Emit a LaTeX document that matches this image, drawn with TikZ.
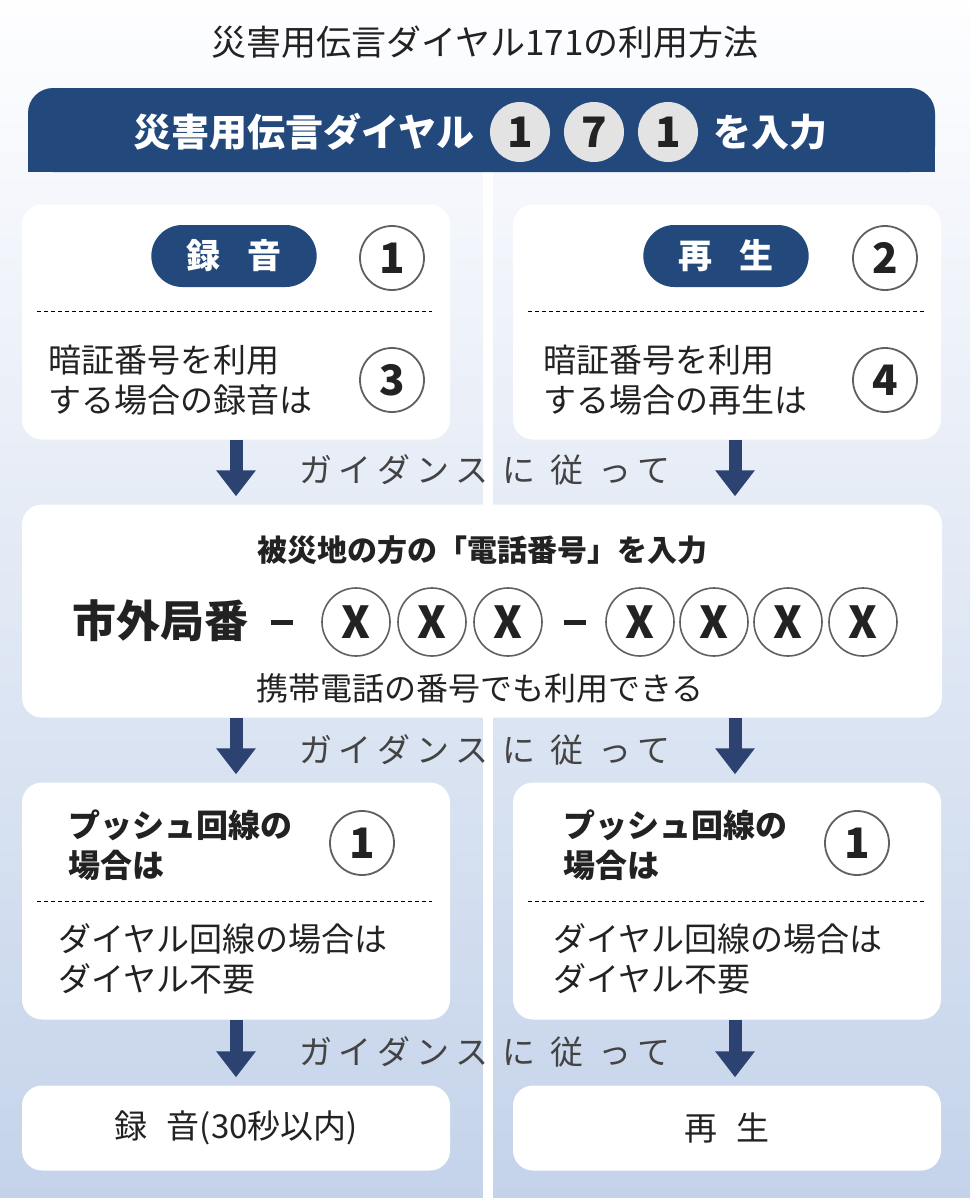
\documentclass[tikz,border=0pt]{standalone}
\usepackage{fontspec}
\setmainfont{Noto Sans CJK JP}
\usetikzlibrary{arrows.meta,shapes.misc}
\definecolor{navy}{HTML}{23497C}
\definecolor{arr}{HTML}{2C4270}
\definecolor{txt}{HTML}{222222}
\newcommand{\fs}[1]{\fontsize{#1}{40}\selectfont}
\newcommand{\gd}{ガ\hspace{0.18em}イ\hspace{0.18em}ダ\hspace{0.18em}ン\hspace{0.18em}ス\hspace{0.45em}に\hspace{0.45em}従\hspace{0.45em}っ\hspace{0.18em}て}
\tikzset{
 wbox/.style={fill=white,rounded corners=20pt,minimum width=428pt,inner sep=0pt},
 num/.style={circle,draw=gray!75!black,line width=1.8pt,minimum size=64pt,inner sep=0pt,font=\fs{42}\bfseries,text=txt},
 hnum/.style={circle,fill=gray!22,minimum size=60pt,inner sep=0pt,font=\fs{42}\bfseries,text=txt},
 xnum/.style={circle,draw=gray!75!black,line width=1.6pt,minimum size=68pt,inner sep=0pt,font=\fs{44}\bfseries,text=txt},
 pill/.style={rounded rectangle,fill=navy,minimum width=172pt,minimum height=62pt,text=white,font=\fs{34}\bfseries},
 bigarrow/.style={arr,line width=13pt,-{Triangle[width=38pt,length=26pt]},shorten >=8pt},
 guide/.style={font=\fs{33},text=txt!85},
 body/.style={font=\fs{33},text=txt,align=left,anchor=west,inner sep=0pt},
 dline/.style={dashed,line width=0.9pt,dash pattern=on 4pt off 3pt},
 hyph/.style={fill=txt,minimum width=22pt,minimum height=5pt,inner sep=0pt},
}
\begin{document}
\begin{tikzpicture}[x=1pt,y=-1pt]
\shade[top color=white!90!blue!4,bottom color={rgb,255:red,196;green,211;blue,234}] (0,0) rectangle (970,1200);
\fill[white] (483,172) rectangle (493,1200);
\fill[white] (0,1198) rectangle (970,1200);
\node[font=\fs{35},text=txt] (title) at (485,42) {災害用伝言ダイヤル171の利用方法};
% header
\fill[navy,rounded corners=25pt] (28,172) -- (28,88) -- (935,88) -- (935,172) -- cycle;
\fill[navy] (28,140) rectangle (935,172);
\node[font=\fs{38}\bfseries,text=white,anchor=east] (h1) at (478,132) {災害用伝言ダイヤル};
\node[hnum] (hn1) at (520,132) {1};
\node[hnum] (hn2) at (594,132) {7};
\node[hnum] (hn3) at (668,132) {1};
\node[font=\fs{38}\bfseries,text=white,anchor=west] (h2) at (710,132) {を入力};
% row1
\node[wbox,minimum height=235pt] (r1l) at (236,322) {};
\node[wbox,minimum height=235pt] (r1r) at (727,322) {};
\node[pill] (p1) at (234,256) {録\hspace{0.8em}音};
\node[num] (n1) at (392,258) {1};
\node[pill] (p2) at (726,256) {再\hspace{0.8em}生};
\node[num] (n2) at (885,258) {2};
\draw[dline] (37,311) -- (432,311);
\draw[dline] (528,311) -- (925,311);
\node[body] (t1) at (48,380) {暗証番号を利用\\する場合の録音は};
\node[num] (n3) at (392,380) {3};
\node[body] (t2) at (543,380) {暗証番号を利用\\する場合の再生は};
\node[num] (n4) at (885,380) {4};
% row2
\node[wbox,minimum width=920pt,minimum height=213pt] (r2) at (482,611) {};
\draw[bigarrow] (r1l.south) -- (r1l.south |- r2.north);
\draw[bigarrow] ([xshift=8pt]r1r.south) -- ([xshift=8pt]r1r.south |- r2.north);
\node[guide] (g1) at (485,470) {\gd};
\node[font=\fs{30}\bfseries,text=txt] (r2t) at (482,550) {被災地の方の「電話番号」を入力};
\node[font=\fs{44}\bfseries,text=txt] (sg) at (160,621) {市外局番};
\node[hyph] (d1) at (282,622) {};
\node[xnum] (x1) at (356,622) {X};
\node[xnum] (x2) at (432,622) {X};
\node[xnum] (x3) at (508,622) {X};
\node[hyph] (d2) at (575,622) {};
\node[xnum] (x4) at (640,622) {X};
\node[xnum] (x5) at (714,622) {X};
\node[xnum] (x6) at (788,622) {X};
\node[xnum] (x7) at (863,622) {X};
\node[font=\fs{32},text=txt] (r2b) at (480,688) {携帯電話の番号でも利用できる};
% row3
\node[wbox,minimum height=237pt] (r3l) at (236,901) {};
\node[wbox,minimum height=237pt] (r3r) at (727,901) {};
\draw[bigarrow] (r2.south -| r1l.south) -- (r1l.south |- r3l.north);
\draw[bigarrow] ([xshift=8pt]r2.south -| r1r.south) -- ([xshift=8pt]r1r.south |- r3r.north);
\node[guide] (g2) at (485,750) {\gd};
\node[body,font=\fs{32}\bfseries,text=txt] (t3) at (68,845) {プッシュ回線の\\場合は};
\node[num] (n5) at (362,843) {1};
\node[body,font=\fs{32}\bfseries,text=txt] (t4) at (563,845) {プッシュ回線の\\場合は};
\node[num] (n6) at (857,843) {1};
\draw[dline] (37,901) -- (432,901);
\draw[dline] (528,901) -- (925,901);
\node[body] (t5) at (58,959) {ダイヤル回線の場合は\\ダイヤル不要};
\node[body] (t6) at (553,959) {ダイヤル回線の場合は\\ダイヤル不要};
% row4
\node[wbox,minimum height=85pt] (r4l) at (236,1128) {};
\node[wbox,minimum height=85pt] (r4r) at (727,1128) {};
\draw[bigarrow] (r3l.south) -- (r3l.south |- r4l.north);
\draw[bigarrow] ([xshift=8pt]r3r.south) -- ([xshift=8pt]r3r.south |- r4r.north);
\node[guide] (g3) at (485,1052) {\gd};
\node[font=\fs{33},text=txt] (f1) at (236,1128) {録\hspace{0.6em}音(30秒以内)};
\node[font=\fs{33},text=txt] (f2) at (727,1128) {再\hspace{0.6em}生};
\end{tikzpicture}
\end{document}
